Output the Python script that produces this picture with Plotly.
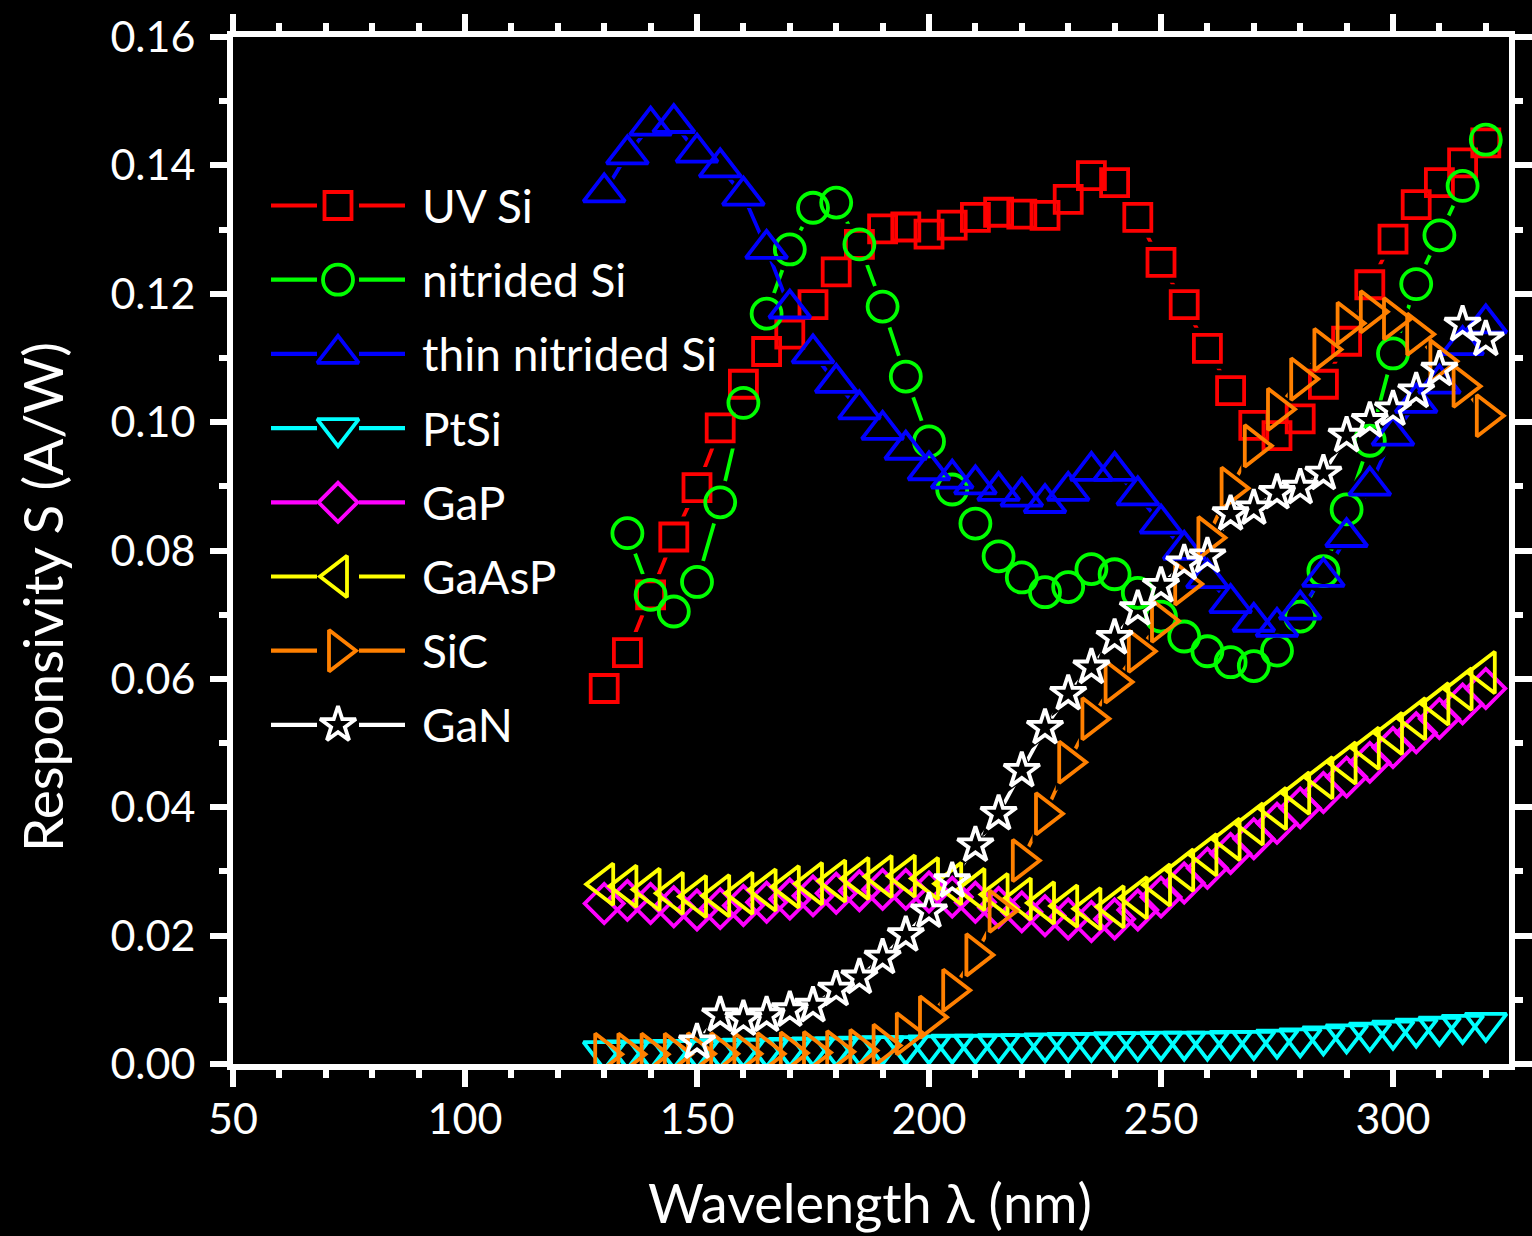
import plotly.graph_objects as go

# ---------------- data ----------------
wl_130 = [130, 135, 140, 145, 150, 155, 160, 165, 170, 175, 180, 185, 190, 195, 200,
          205, 210, 215, 220, 225, 230, 235, 240, 245, 250, 255, 260, 265, 270, 275,
          280, 285, 290, 295, 300, 305, 310, 315, 320]
wl_135 = [135, 140, 145, 150, 155, 160, 165, 170, 175, 180, 185, 190, 195, 200,
          205, 210, 215, 220, 225, 230, 235, 240, 245, 250, 255, 260, 265, 270, 275,
          280, 285, 290, 295, 300, 305, 310, 315, 320]
wl_150 = [150, 155, 160, 165, 170, 175, 180, 185, 190, 195, 200,
          205, 210, 215, 220, 225, 230, 235, 240, 245, 250, 255, 260, 265, 270, 275,
          280, 285, 290, 295, 300, 305, 310, 315, 320]

uv_si = [0.0585, 0.0641, 0.0731, 0.0821, 0.0898, 0.0991, 0.1059, 0.1110, 0.1137, 0.1183,
         0.1234, 0.1277, 0.1301, 0.1304, 0.1293, 0.1307, 0.1319, 0.1327, 0.1324, 0.1322,
         0.1347, 0.1384, 0.1373, 0.1319, 0.1249, 0.1183, 0.1115, 0.1049, 0.0995, 0.0979,
         0.1005, 0.1059, 0.1126, 0.1214, 0.1285, 0.1339, 0.1373, 0.1404, 0.1435]

nitrided_si = [0.0827, 0.0731, 0.0705, 0.0751, 0.0875, 0.1030, 0.1169, 0.1269, 0.1334,
               0.1342, 0.1277, 0.1180, 0.1071, 0.0970, 0.0895, 0.0842, 0.0791, 0.0758,
               0.0735, 0.0743, 0.0771, 0.0763, 0.0734, 0.0697, 0.0666, 0.0643, 0.0626,
               0.0620, 0.0644, 0.0697, 0.0768, 0.0864, 0.0971, 0.1107, 0.1215, 0.1291,
               0.1368, 0.1440]

thin_nitrided_si = [0.1358, 0.1417, 0.1462, 0.1466, 0.1420, 0.1397, 0.1353, 0.1270, 0.1177,
                    0.1107, 0.1061, 0.1020, 0.0988, 0.0957, 0.0925, 0.0912, 0.0903, 0.0893,
                    0.0884, 0.0874, 0.0893, 0.0924, 0.0924, 0.0886, 0.0842, 0.0801, 0.0757,
                    0.0718, 0.0689, 0.0681, 0.0708, 0.0759, 0.0821, 0.0901, 0.0979, 0.1030,
                    0.1060, 0.1120, 0.1154]

ptsi = [0.0020, 0.0021, 0.0021, 0.0022, 0.0022, 0.0023, 0.0024, 0.0024, 0.0025, 0.0026,
        0.0026, 0.0027, 0.0028, 0.0028, 0.0029, 0.0030, 0.0030, 0.0031, 0.0031, 0.0032,
        0.0033, 0.0033, 0.0034, 0.0034, 0.0035, 0.0035, 0.0035, 0.0036, 0.0036, 0.0038,
        0.0040, 0.0043, 0.0046, 0.0049, 0.0052, 0.0055, 0.0058, 0.0061, 0.0064]

gap = [0.0250, 0.0255, 0.0250, 0.0245, 0.0240, 0.0242, 0.0247, 0.0252, 0.0257, 0.0262,
       0.0266, 0.0270, 0.0272, 0.0272, 0.0268, 0.0260, 0.0252, 0.0244, 0.0237, 0.0231,
       0.0226, 0.0222, 0.0226, 0.0240, 0.0260, 0.0282, 0.0305, 0.0328, 0.0351, 0.0375,
       0.0399, 0.0423, 0.0447, 0.0470, 0.0493, 0.0516, 0.0538, 0.0561, 0.0585]

gaasp = [0.0280, 0.0277, 0.0272, 0.0266, 0.0261, 0.0262, 0.0266, 0.0271, 0.0276, 0.0281,
         0.0285, 0.0289, 0.0292, 0.0293, 0.0289, 0.0281, 0.0272, 0.0264, 0.0257, 0.0251,
         0.0246, 0.0242, 0.0245, 0.0259, 0.0279, 0.0302, 0.0326, 0.0350, 0.0374, 0.0398,
         0.0422, 0.0446, 0.0469, 0.0492, 0.0515, 0.0538, 0.0561, 0.0584, 0.0610]

sic = [0.0015, 0.0015, 0.0015, 0.0015, 0.0016, 0.0016, 0.0016, 0.0016, 0.0017, 0.0018,
       0.0019, 0.0021, 0.0029, 0.0047, 0.0073, 0.0115, 0.0170, 0.0238, 0.0317, 0.0390,
       0.0470, 0.0538, 0.0595, 0.0643, 0.0690, 0.0748, 0.0820, 0.0897, 0.0963, 0.1020,
       0.1067, 0.1113, 0.1154, 0.1172, 0.1161, 0.1137, 0.1095, 0.1056, 0.1010]

gan = [0.0034, 0.0076, 0.0070, 0.0076, 0.0084, 0.0091, 0.0116, 0.0135, 0.0166, 0.0201,
       0.0238, 0.0285, 0.0341, 0.0390, 0.0457, 0.0524, 0.0577, 0.0618, 0.0664, 0.0709,
       0.0745, 0.0780, 0.0791, 0.0857, 0.0866, 0.0890, 0.0898, 0.0920, 0.0979, 0.1002,
       0.1020, 0.1048, 0.1082, 0.1152, 0.1129]

series_names = ["UV Si", "nitrided Si", "thin nitrided Si", "PtSi", "GaP", "GaAsP", "SiC", "GaN"]
series_x = [wl_130, wl_135, wl_130, wl_130, wl_130, wl_130, wl_130, wl_150]
series_y = [uv_si, nitrided_si, thin_nitrided_si, ptsi, gap, gaasp, sic, gan]

x_ticks = [50, 100, 150, 200, 250, 300]
y_ticks = [0.00, 0.02, 0.04, 0.06, 0.08, 0.10, 0.12, 0.14, 0.16]

# ---------------- styles ----------------
colors = ["#FF0000", "#00FF00", "#0000FF", "#00FFFF", "#FF00FF", "#FFFF00", "#FF8000", "#FFFFFF"]
symbols = ["square", "circle", "triangle-up", "triangle-down", "diamond",
           "triangle-left", "triangle-right", "star"]
sizes = [27, 30, 36, 36, 30, 36, 36, 27]

FONT = "Lato, 'Open Sans', sans-serif"
W, H = 1532, 1236
L, R, T, B = 233, 23, 37, 172
PX0, PX1 = L, W - R
PY0, PY1 = H - B, T

fig = go.Figure()

# lines
for xs, ys, c in zip(series_x, series_y, colors):
    fig.add_trace(go.Scatter(x=xs, y=ys, mode="lines", line=dict(color=c, width=3.8),
                             showlegend=False, hoverinfo="skip"))
# black gaps around markers
for xs, ys, sym, sz in zip(series_x, series_y, symbols, sizes):
    fig.add_trace(go.Scatter(x=xs, y=ys, mode="markers",
                             marker=dict(symbol=sym, size=sz + 14, color="black",
                                         line=dict(width=0)),
                             showlegend=False, hoverinfo="skip"))
# open markers
for name, xs, ys, sym, sz, c in zip(series_names, series_x, series_y, symbols, sizes, colors):
    fig.add_trace(go.Scatter(x=xs, y=ys, mode="markers", name=name,
                             marker=dict(symbol=sym + "-open", size=sz, color=c,
                                         line=dict(width=3.8, color=c)),
                             showlegend=False))

# ---------------- custom legend (pixel-coordinate overlay axes) ----------------
leg_y0, leg_dy = 205.5, 74.2
line_x = [271, 317, None, 359, 405]
mark_x = 338
text_x = 420
annotations = []
for i, (name, sym, sz, c) in enumerate(zip(series_names, symbols, sizes, colors)):
    yy = leg_y0 + i * leg_dy
    fig.add_trace(go.Scatter(x=line_x, y=[yy, yy, None, yy, yy], mode="lines",
                             line=dict(color=c, width=4.2), xaxis="x2", yaxis="y2",
                             showlegend=False, hoverinfo="skip"))
    fig.add_trace(go.Scatter(x=[mark_x], y=[yy], mode="markers",
                             marker=dict(symbol=sym + "-open", size=sz, color=c,
                                         line=dict(width=3.8, color=c)),
                             xaxis="x2", yaxis="y2", showlegend=False, hoverinfo="skip"))
    annotations.append(dict(x=text_x, y=yy, xref="x2", yref="y2", text=name,
                            showarrow=False, xanchor="left", yanchor="middle",
                            font=dict(family=FONT, size=46, color="white")))

# axis titles
pw, ph = PX1 - PX0, PY0 - PY1
annotations.append(dict(x=(870 - PX0) / pw, y=(PY0 - 1202) / ph, xref="paper", yref="paper",
                        text="Wavelength λ (nm)", showarrow=False, xanchor="center",
                        yanchor="middle", font=dict(family=FONT, size=54, color="white")))
annotations.append(dict(x=(42 - PX0) / pw, y=(PY0 - 597) / ph, xref="paper", yref="paper",
                        text="Responsivity S (A/W)", showarrow=False, xanchor="center",
                        yanchor="middle", textangle=-90,
                        font=dict(family=FONT, size=55, color="white")))

axis_common = dict(showgrid=False, zeroline=False, showline=True, linecolor="white",
                   linewidth=6, mirror="allticks", ticks="outside", ticklen=17,
                   tickwidth=6, tickcolor="white", automargin=False,
                   tickfont=dict(family=FONT, size=43, color="white"))

fig.update_layout(
    width=W, height=H,
    margin=dict(l=L, r=R, t=T, b=B, pad=0, autoexpand=False),
    paper_bgcolor="black", plot_bgcolor="black",
    showlegend=False,
    xaxis=dict(range=[50, 325], tickvals=x_ticks, ticktext=[str(v) for v in x_ticks],
               ticklabelstandoff=-5,
               minor=dict(dtick=10, tick0=50, ticks="outside", ticklen=8, tickwidth=6,
                          tickcolor="white", showgrid=False),
               **axis_common),
    yaxis=dict(range=[0, 0.16], tickvals=y_ticks, ticktext=[f"{v:.2f}" for v in y_ticks],
               ticklabelstandoff=6,
               minor=dict(dtick=0.01, tick0=0, ticks="outside", ticklen=8, tickwidth=6,
                          tickcolor="white", showgrid=False),
               **axis_common),
    xaxis2=dict(range=[PX0, PX1], overlaying="x", anchor="y2", visible=False,
                automargin=False),
    yaxis2=dict(range=[PY0, PY1], overlaying="y", anchor="x2", visible=False,
                automargin=False),
    annotations=annotations,
)

fig.write_html(
    "out.html",
    config={"displayModeBar": False},
    post_script="document.body.style.margin='0';document.body.style.padding='0';"
                "document.body.style.background='black';"
                "document.documentElement.style.overflow='hidden';",
)
